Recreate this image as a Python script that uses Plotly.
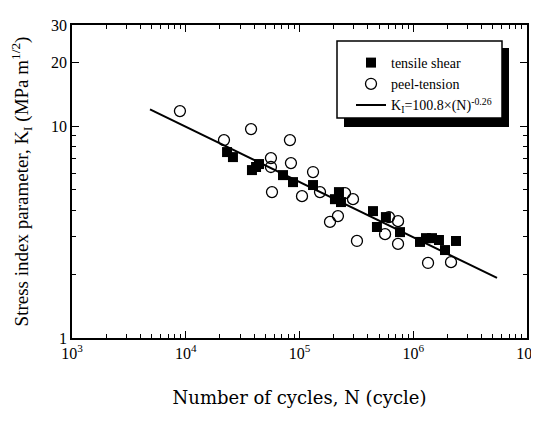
import plotly.graph_objects as go

# tensile shear (filled squares)
shear_N = [23070, 26000, 38200, 41500, 44050, 71600, 87700, 131500, 222300, 205000, 231500,
           442600, 479600, 575000, 765000, 1146000, 1294000, 1462000, 1683000, 1901000, 2377000]
shear_K = [7.54, 7.14, 6.20, 6.41, 6.62, 5.87, 5.44, 5.27, 4.88, 4.52, 4.38,
           3.97, 3.34, 3.72, 3.16, 2.84, 2.96, 2.96, 2.90, 2.60, 2.87]

# peel-tension (open circles)
peel_N = [8890, 21680, 37500, 82400, 56100, 56100, 84100, 131500, 57300, 105200, 151400,
          185400, 217800, 251200, 295300, 320000, 612000, 735000, 565000, 735000, 1349000, 2148000]
peel_K = [11.77, 8.59, 9.68, 8.59, 7.06, 6.41, 6.69, 6.07, 4.88, 4.67, 4.88,
          3.53, 3.76, 4.83, 4.52, 2.87, 3.72, 3.56, 3.09, 2.78, 2.26, 2.28]

# fitted line end points
fit_N = [4850, 5450000]
fit_K = [12.0, 1.92]

x_ticks = [1e3, 1e4, 1e5, 1e6, 1e7]
x_labels = ["10<sup>3</sup>", "10<sup>4</sup>", "10<sup>5</sup>", "10<sup>6</sup>", "10<sup>7</sup>"]
y_ticks = [1, 10, 20, 30]
y_labels = ["1", "10", "20", "30"]

font = "Liberation Serif, Times New Roman, serif"

fig = go.Figure()

fig.add_trace(go.Scatter(
    x=shear_N, y=shear_K, mode="markers", name="tensile shear",
    marker=dict(symbol="square", size=10, color="black"),
))
fig.add_trace(go.Scatter(
    x=peel_N, y=peel_K, mode="markers", name="peel-tension",
    marker=dict(symbol="circle-open", size=11, color="black", line=dict(width=1.3)),
))
fig.add_trace(go.Scatter(
    x=fit_N, y=fit_K, mode="lines", name="K<sub>I</sub>=100.8×(N)<sup>-0.26</sup>",
    line=dict(color="black", width=2),
))

minor_x = [m * 10 ** e for e in range(3, 7) for m in range(2, 10)]
minor_y = [2, 3, 4, 5, 6, 7, 8, 9]

fig.update_xaxes(
    type="log", range=[3, 7], automargin=False,
    tickvals=x_ticks, ticktext=x_labels,
    ticks="inside", ticklen=7, tickwidth=1.2, tickcolor="black",
    minor=dict(tickvals=minor_x, ticks="inside", ticklen=4, tickcolor="black"),
    showline=True, linecolor="black", linewidth=1.5, mirror="ticks",
    showgrid=False, zeroline=False,
    tickfont=dict(size=16, color="black"),
    title=dict(text="Number of cycles, N (cycle)",
               font=dict(size=18, color="black", family="DejaVu Serif"), standoff=30),
)
fig.update_yaxes(
    type="log", range=[0, 1.477], automargin=False,
    tickvals=y_ticks, ticktext=y_labels,
    ticks="inside", ticklen=7, tickwidth=1.2, tickcolor="black",
    minor=dict(tickvals=minor_y, ticks="inside", ticklen=4, tickcolor="black"),
    showline=True, linecolor="black", linewidth=1.5, mirror="ticks",
    showgrid=False, zeroline=False,
    tickfont=dict(size=16, color="black"),
    title=dict(text="Stress index parameter, K<sub>I</sub> (MPa m<sup>1/2</sup>)",
               font=dict(size=19, color="black"), standoff=18),
)

# page body adds 8px, so the plot frame is set in figure pixels
def px_x(p):
    return (p - 72) / 455

def px_y(p):
    return (338 - p) / 313

# legend box with drop shadow
fig.add_shape(type="rect", xref="paper", yref="paper",
              x0=px_x(344), x1=px_x(509), y0=px_y(127), y1=px_y(48),
              fillcolor="black", line=dict(width=0), layer="above")
fig.add_shape(type="rect", xref="paper", yref="paper",
              x0=px_x(337), x1=px_x(502), y0=px_y(118), y1=px_y(41),
              fillcolor="white", line=dict(color="black", width=1.5), layer="above")

fig.update_layout(
    width=531, height=421,
    margin=dict(l=64, r=12, t=17, b=91),
    plot_bgcolor="white", paper_bgcolor="white",
    font=dict(family=font, color="black"),
    showlegend=True,
    legend=dict(
        x=px_x(351), y=px_y(47), xanchor="left", yanchor="top",
        bgcolor="rgba(0,0,0,0)", borderwidth=0,
        font=dict(size=14, color="black"), itemwidth=30,
        tracegroupgap=0,
    ),
)

fig.write_html("out.html")
